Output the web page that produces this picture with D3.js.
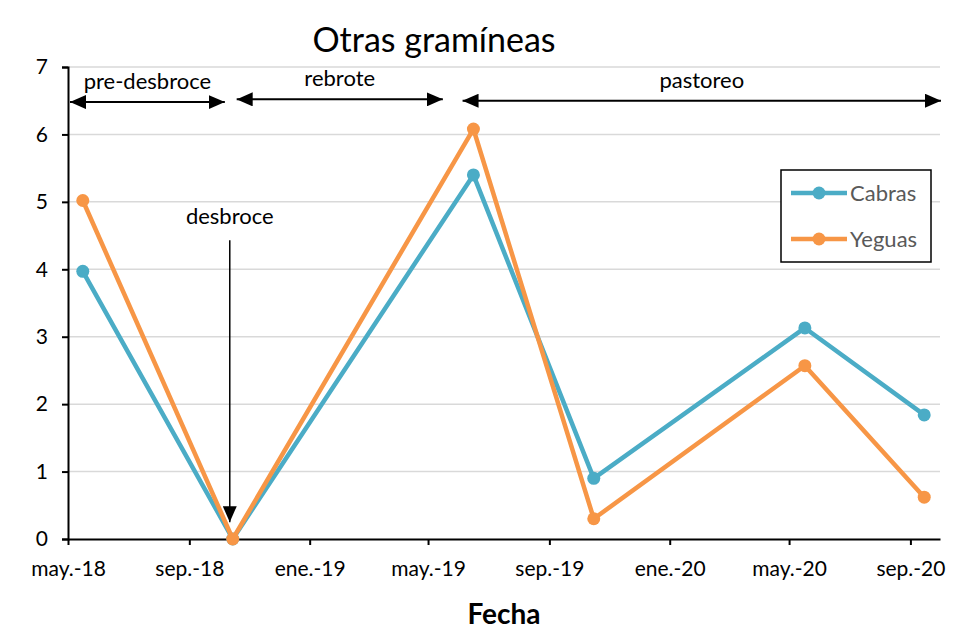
<!DOCTYPE html>
<html>
<head>
<meta charset="utf-8">
<script src="https://cdn.jsdelivr.net/npm/d3@7"></script>
<style>
  body { margin: 0; background: #fff; }
  text { font-family: Lato, "Open Sans", sans-serif; }
</style>
</head>
<body>
<div class="chart"></div>
<script>
// Otras gramíneas - Cabras vs Yeguas

var parseTime = d3.timeParse("%Y-%m-%d");

// data
var fechas = ["2018-05-16", "2018-10-15", "2019-06-16", "2019-10-16", "2020-05-17", "2020-09-15"];
var cabras = [3.97, 0, 5.40, 0.90, 3.13, 1.84];
var yeguas = [5.02, 0, 6.08, 0.30, 2.57, 0.62];
var seriesNames = ["Cabras", "Yeguas"];
var tickFechas = ["2018-05-01", "2018-09-01", "2019-01-01", "2019-05-01", "2019-09-01", "2020-01-01", "2020-05-01", "2020-09-01"];
var tickLabels = ["may.-18", "sep.-18", "ene.-19", "may.-19", "sep.-19", "ene.-20", "may.-20", "sep.-20"];
var yTicks = [0, 1, 2, 3, 4, 5, 6, 7];

// periods (arrows on top)
var periodos = ["pre-desbroce", "rebrote", "pastoreo"];
var periodoInicio = ["2018-05-03", "2018-10-19", "2019-06-05"];
var periodoFin = ["2018-10-07", "2019-05-16", "2020-10-02"];
var periodoY = [6.48, 6.52, 6.50];

var colors = ["#4bacc6", "#f79646"];

var margin = {top: 67, right: 40, bottom: 91, left: 68},
    width = 980 - margin.left - margin.right,
    height = 630 - margin.top - margin.bottom;

var x = d3.scaleTime()
    .domain([parseTime("2018-05-01"), parseTime("2020-10-01")])
    .range([0, width]);
var y = d3.scaleLinear().domain([0, 7]).range([height, 0]);

var root = d3.select(".chart").append("svg")
    .attr("width", 980)
    .attr("height", 630);

var defs = root.append("defs");
defs.append("marker")
    .attr("id", "head")
    .attr("markerUnits", "userSpaceOnUse")
    .attr("viewBox", "0 0 16 14")
    .attr("refX", 16).attr("refY", 7)
    .attr("markerWidth", 16).attr("markerHeight", 14)
    .attr("orient", "auto-start-reverse")
    .append("path")
    .attr("d", "M0,0L16,7L0,14Z")
    .attr("fill", "#000");

var svg = root.append("g")
    .attr("transform", "translate(" + margin.left + "," + margin.top + ")");

/* gridlines */
svg.append("g")
    .selectAll("line")
    .data(yTicks.slice(1))
    .enter().append("line")
    .attr("x1", 0).attr("x2", width)
    .attr("y1", function(d) { return y(d); })
    .attr("y2", function(d) { return y(d); })
    .attr("stroke", "#d9d9d9")
    .attr("stroke-width", 1.5);

/* y axis */
var yAxis = svg.append("g")
    .call(d3.axisLeft(y).tickValues(yTicks).tickSize(6).tickPadding(14).tickFormat(d3.format("d")));
yAxis.select(".domain").attr("stroke-width", 2);
yAxis.selectAll(".tick line").attr("stroke-width", 2);
yAxis.selectAll("text").style("font-size", "21px").attr("fill", "#000");

/* x axis */
var xAxis = svg.append("g")
    .attr("transform", "translate(0," + height + ")")
    .call(d3.axisBottom(x)
        .tickValues(tickFechas.map(parseTime))
        .tickSize(6).tickSizeOuter(0).tickPadding(16)
        .tickFormat(function(d, i) { return tickLabels[i]; }));
xAxis.select(".domain").attr("stroke-width", 2);
xAxis.selectAll(".tick line").attr("stroke-width", 2);
xAxis.selectAll("text").style("font-size", "21px").attr("fill", "#000");

/* series */
var series = seriesNames.map(function(name, i) {
    var vals = i === 0 ? cabras : yeguas;
    return {
        name: name,
        color: colors[i],
        values: fechas.map(function(f, j) { return {date: parseTime(f), value: vals[j]}; })
    };
});

var line = d3.line()
    .x(function(d) { return x(d.date); })
    .y(function(d) { return y(d.value); });

series.forEach(function(s) {
    svg.append("path")
        .datum(s.values)
        .attr("fill", "none")
        .attr("stroke", s.color)
        .attr("stroke-width", 4.5)
        .attr("stroke-linejoin", "round")
        .attr("d", line);
    svg.append("g")
        .selectAll("circle")
        .data(s.values)
        .enter().append("circle")
        .attr("cx", function(d) { return x(d.date); })
        .attr("cy", function(d) { return y(d.value); })
        .attr("r", 6.5)
        .attr("fill", s.color);
});

/* period arrows */
periodos.forEach(function(p, i) {
    var x1 = x(parseTime(periodoInicio[i])),
        x2 = x(parseTime(periodoFin[i])),
        yy = y(periodoY[i]);
    svg.append("line")
        .attr("x1", x1).attr("x2", x2)
        .attr("y1", yy).attr("y2", yy)
        .attr("stroke", "#000")
        .attr("stroke-width", 2)
        .attr("marker-start", "url(#head)")
        .attr("marker-end", "url(#head)");
    svg.append("text")
        .attr("x", (x1 + x2) / 2)
        .attr("y", yy - 13)
        .attr("text-anchor", "middle")
        .style("font-size", "22px")
        .text(p);
});

/* desbroce arrow */
var dX = x(parseTime("2018-10-12"));
svg.append("line")
    .attr("x1", dX).attr("x2", dX)
    .attr("y1", y(4.43)).attr("y2", y(0.25))
    .attr("stroke", "#000")
    .attr("stroke-width", 1.5)
    .attr("marker-end", "url(#head)");
svg.append("text")
    .attr("x", dX)
    .attr("y", y(4.43) - 16)
    .attr("text-anchor", "middle")
    .style("font-size", "22px")
    .text("desbroce");

/* legend */
var legend = svg.append("g").attr("transform", "translate(" + (781 - margin.left) + "," + (170 - margin.top) + ")");
legend.append("rect")
    .attr("width", 150).attr("height", 92)
    .attr("fill", "#fff")
    .attr("stroke", "#000")
    .attr("stroke-width", 1.5);
series.forEach(function(s, i) {
    var g = legend.append("g").attr("transform", "translate(0," + (23 + i * 46) + ")");
    g.append("line")
        .attr("x1", 10).attr("x2", 66)
        .attr("stroke", s.color).attr("stroke-width", 4.5);
    g.append("circle").attr("cx", 38).attr("r", 6.5).attr("fill", s.color);
    g.append("text")
        .attr("x", 69).attr("dy", "0.35em")
        .attr("fill", "#595959")
        .style("font-size", "22px")
        .text(s.name);
});

/* titles */
root.append("text")
    .attr("x", 434).attr("y", 52)
    .attr("text-anchor", "middle")
    .style("font-size", "34px")
    .text("Otras gramíneas");

root.append("text")
    .attr("x", 504).attr("y", 624)
    .attr("text-anchor", "middle")
    .style("font-size", "28px")
    .style("font-weight", "bold")
    .text("Fecha");
</script>
</body>
</html>
